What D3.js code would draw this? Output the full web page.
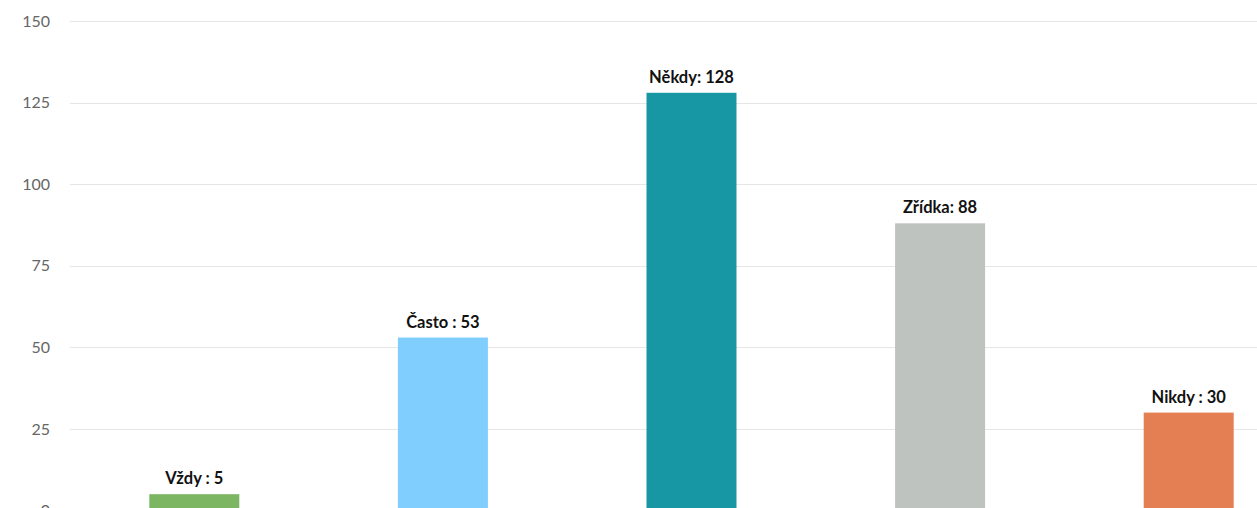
<!DOCTYPE html>
<html>
<head>
<meta charset="utf-8">
<script src="https://cdn.jsdelivr.net/npm/d3@7"></script>
<style>
  html, body { margin: 0; padding: 0; background: #fff; overflow: hidden; }
  svg { display: block; }
</style>
</head>
<body>
<svg id="chart" width="1257" height="508"></svg>
<script>
const categories = ["Vždy", "Často", "Někdy", "Zřídka", "Nikdy"];
const values = [5, 53, 128, 88, 30];
const labels = ["Vždy : 5", "Často : 53", "Někdy: 128", "Zřídka: 88", "Nikdy : 30"];
const colors = ["#7db663", "#80cefd", "#1796a3", "#bec3bf", "#e47f53"];
const yTicks = [0, 25, 50, 75, 100, 125, 150];

const svg = d3.select("#chart");
const W = 1257;

const x = d3.scaleBand()
  .domain(categories)
  .range([70, 1313])
  .paddingInner(0.638)
  .paddingOuter(0.319);

const y = d3.scaleLinear()
  .domain([0, 150])
  .range([510.5, 21]);

// gridlines
svg.append("g")
  .selectAll("line")
  .data(yTicks)
  .join("line")
  .attr("x1", 70)
  .attr("x2", W)
  .attr("y1", d => Math.round(y(d)) + 0.5)
  .attr("y2", d => Math.round(y(d)) + 0.5)
  .attr("stroke", "#e6e6e6")
  .attr("stroke-width", 1);

// y axis labels
const yAxis = d3.axisLeft(y).tickValues(yTicks).tickSize(0).tickPadding(0);
const gy = svg.append("g")
  .attr("transform", "translate(50,0)")
  .call(yAxis);
gy.select(".domain").remove();
gy.selectAll("text")
  .attr("font-family", "Lato, 'Open Sans', sans-serif")
  .attr("font-size", 16)
  .attr("fill", "#666");

// bars
svg.append("g")
  .selectAll("rect")
  .data(categories)
  .join("rect")
  .attr("x", d => x(d))
  .attr("width", x.bandwidth())
  .attr("y", (d, i) => y(values[i]))
  .attr("height", (d, i) => y(0) - y(values[i]))
  .attr("fill", (d, i) => colors[i]);

// bar labels
svg.append("g")
  .selectAll("text")
  .data(categories)
  .join("text")
  .attr("x", d => x(d) + x.bandwidth() / 2)
  .attr("y", (d, i) => y(values[i]) - 10)
  .attr("text-anchor", "middle")
  .attr("font-family", "Lato, 'Open Sans', sans-serif")
  .attr("font-weight", "bold")
  .attr("font-size", 16.5)
  .attr("fill", "#111")
  .text((d, i) => labels[i]);
</script>
</body>
</html>
